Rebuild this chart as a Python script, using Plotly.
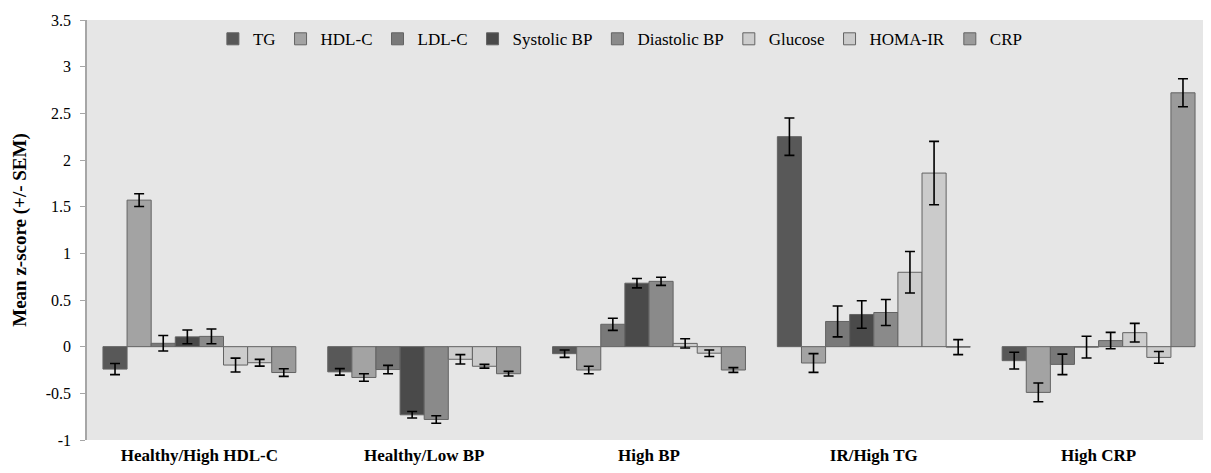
import plotly.graph_objects as go

categories = ["Healthy/High HDL-C", "Healthy/Low BP", "High BP", "IR/High TG", "High CRP"]
series_names = ["TG", "HDL-C", "LDL-C", "Systolic BP", "Diastolic BP", "Glucose", "HOMA-IR", "CRP"]

TG = [-0.24, -0.27, -0.075, 2.25, -0.15]
HDL_C = [1.57, -0.33, -0.25, -0.175, -0.49]
LDL_C = [0.036, -0.245, 0.24, 0.27, -0.19]
Systolic_BP = [0.105, -0.73, 0.68, 0.345, -0.005]
Diastolic_BP = [0.11, -0.78, 0.70, 0.366, 0.065]
Glucose = [-0.197, -0.135, 0.035, 0.797, 0.15]
HOMA_IR = [-0.172, -0.21, -0.07, 1.86, -0.115]
CRP = [-0.277, -0.29, -0.25, -0.005, 2.72]

TG_sem = [0.06, 0.035, 0.04, 0.20, 0.09]
HDL_C_sem = [0.068, 0.04, 0.04, 0.10, 0.10]
LDL_C_sem = [0.083, 0.045, 0.065, 0.165, 0.11]
Systolic_BP_sem = [0.074, 0.035, 0.05, 0.147, 0.117]
Diastolic_BP_sem = [0.079, 0.04, 0.043, 0.14, 0.088]
Glucose_sem = [0.074, 0.05, 0.05, 0.222, 0.10]
HOMA_IR_sem = [0.036, 0.02, 0.035, 0.34, 0.063]
CRP_sem = [0.041, 0.025, 0.025, 0.08, 0.15]

y_tick_values = [-1, -0.5, 0, 0.5, 1, 1.5, 2, 2.5, 3, 3.5]
y_tick_labels = ["-1", "-0.5", "0", "0.5", "1", "1.5", "2", "2.5", "3", "3.5"]

values = [TG, HDL_C, LDL_C, Systolic_BP, Diastolic_BP, Glucose, HOMA_IR, CRP]
sems = [TG_sem, HDL_C_sem, LDL_C_sem, Systolic_BP_sem, Diastolic_BP_sem, Glucose_sem, HOMA_IR_sem, CRP_sem]
colors = ["#585858", "#a3a3a3", "#797979", "#4a4a4a", "#8a8a8a", "#cdcdcd", "#cbcbcb", "#9b9b9b"]

FONT = "Liberation Serif"

fig = go.Figure()
for name, v, e, c in zip(series_names, values, sems, colors):
    fig.add_trace(go.Bar(
        name=name, x=categories, y=v,
        marker=dict(color=c, line=dict(color="#636363", width=1)),
        error_y=dict(type="data", array=e, visible=True, color="#000000", thickness=1.6, width=5),
    ))

zero_pos = (0 - (-1)) / (3.5 - (-1))

fig.update_layout(
    width=1203, height=465,
    margin=dict(l=79, r=0, t=12, b=33),
    paper_bgcolor="white",
    plot_bgcolor="#e6e6e6",
    barmode="group",
    bargap=0.142,
    bargroupgap=0,
    font=dict(family=FONT, size=16, color="#000000"),
    showlegend=True,
    legend=dict(
        orientation="h", x=0.112, xanchor="left", y=0.997, yanchor="top",
        bgcolor="rgba(0,0,0,0)", font=dict(family=FONT, size=17),
        itemwidth=30, tracegroupgap=0,
    ),
    xaxis=dict(
        type="category", categoryorder="array", categoryarray=categories,
        showline=False, ticks="", showgrid=False,
        tickfont=dict(family=FONT, size=17, color="#000000", weight="bold"),
        ticklabelstandoff=3,
        range=[-0.5, 4.5],
    ),
    xaxis2=dict(
        overlaying="x", anchor="free", position=zero_pos,
        range=[-0.5, 4.5], type="linear",
        tickvals=[-0.5, 0.5, 1.5, 2.5, 3.5, 4.5],
        showticklabels=False, ticks="outside", ticklen=5, tickwidth=1.5,
        tickcolor="#a6a6a6", showline=True, linecolor="#b0b0b0", linewidth=2,
        showgrid=False, zeroline=False,
    ),
    yaxis=dict(
        range=[-1, 3.5], tickmode="array", tickvals=y_tick_values, ticktext=y_tick_labels,
        showgrid=False, zeroline=False,
        showline=True, linecolor="#a6a6a6", linewidth=1.5,
        ticks="outside", ticklen=5, tickcolor="#a6a6a6",
        tickfont=dict(family=FONT, size=16, color="#000000"),
        ticklabelstandoff=6,
        title=dict(text="Mean z-score (+/- SEM)", font=dict(family=FONT, size=19, weight="bold"), standoff=14),
    ),
)

fig.write_html("out.html")
